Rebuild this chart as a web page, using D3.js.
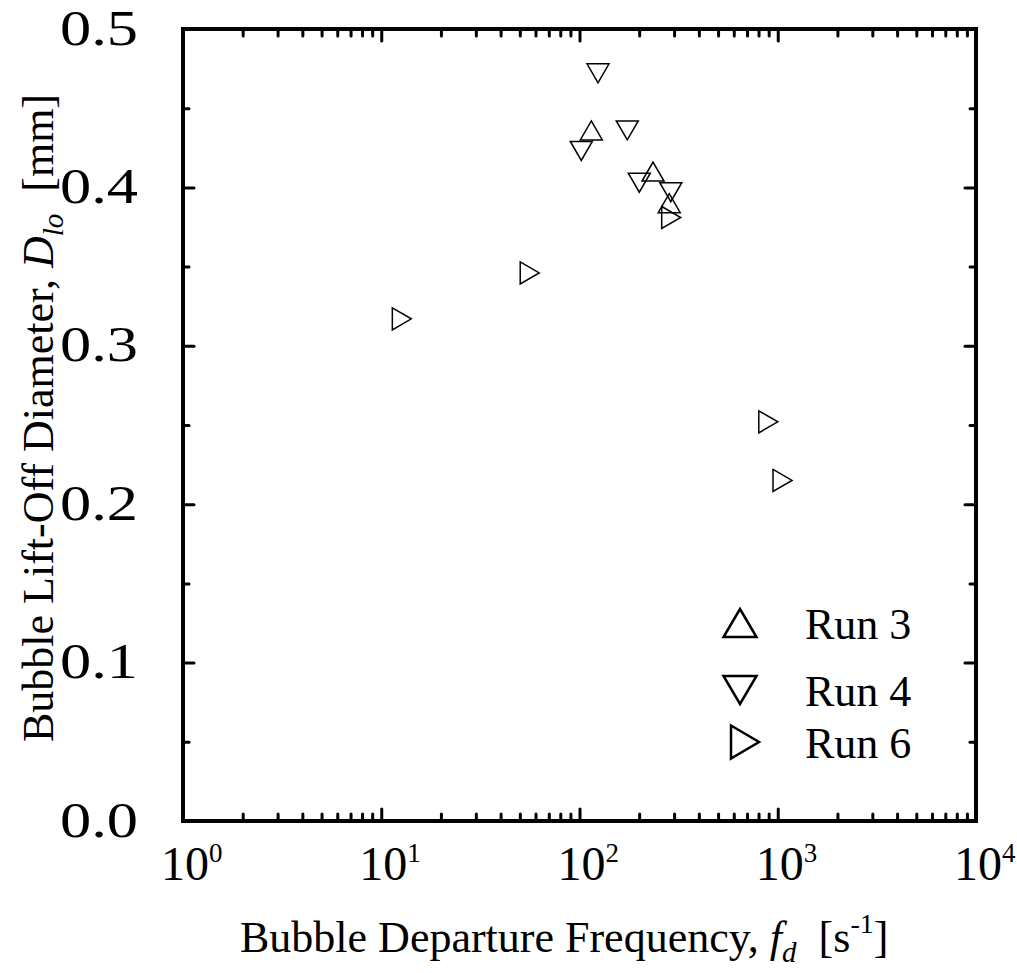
<!DOCTYPE html>
<html>
<head>
<meta charset="utf-8">
<script src="https://cdn.jsdelivr.net/npm/d3@7"></script>
<style>
  body { margin: 0; background: #fff; }
  svg text { font-family: "Liberation Serif", "Times New Roman", serif; fill: #000; }
</style>
</head>
<body>
<svg id="chart" width="1017" height="973"></svg>
<script>
// data
const run3Freq = [114.7, 234.9, 283.5];
const run3Dia = [0.436, 0.410, 0.390];
const run4Freq = [124, 174.2, 102.1, 200.3, 288.7];
const run4Dia = [0.472, 0.436, 0.423, 0.403, 0.397];
const run6Freq = [12.7, 56.1, 290.1, 896, 1057];
const run6Dia = [0.317, 0.346, 0.381, 0.252, 0.215];

const seriesNames = ['Run 3', 'Run 4', 'Run 6'];
const seriesShapes = ['up', 'down', 'right'];
const yTicks = [0, 0.1, 0.2, 0.3, 0.4, 0.5];
const yMinorTicks = [0.05, 0.15, 0.25, 0.35, 0.45];
const xTicks = [1, 10, 100, 1000, 10000];

const W = 1017, H = 973;
const margin = {top: 29, right: 41, bottom: 152, left: 183};

const svg = d3.select('#chart');

const x = d3.scaleLog().domain([1, 1e4]).range([margin.left, W - margin.right]);
const y = d3.scaleLinear().domain([0, 0.5]).range([H - margin.bottom, margin.top]);

const xMinor = [];
[1, 10, 100, 1000].forEach(d => {
    for (let k = 2; k <= 9; k++) xMinor.push(d * k);
});

const styleAxis = g => {
    g.select('.domain').remove();
    g.selectAll('.tick line')
        .attr('stroke', '#000')
        .attr('stroke-width', 3)
        .attr('stroke-linecap', 'round');
};

// bottom / top ticks
svg.append('g')
    .attr('transform', `translate(0,${y(0)})`)
    .call(d3.axisBottom(x).tickValues(xTicks).tickSize(-12).tickFormat(''))
    .call(styleAxis);
svg.append('g')
    .attr('transform', `translate(0,${y(0)})`)
    .call(d3.axisBottom(x).tickValues(xMinor).tickSize(-7).tickFormat(''))
    .call(styleAxis);
svg.append('g')
    .attr('transform', `translate(0,${y(0.5)})`)
    .call(d3.axisTop(x).tickValues(xTicks).tickSize(-12).tickFormat(''))
    .call(styleAxis);
svg.append('g')
    .attr('transform', `translate(0,${y(0.5)})`)
    .call(d3.axisTop(x).tickValues(xMinor).tickSize(-7).tickFormat(''))
    .call(styleAxis);

// left / right ticks
svg.append('g')
    .attr('transform', `translate(${x(1)},0)`)
    .call(d3.axisLeft(y).tickValues(yTicks).tickSize(-11).tickPadding(45).tickFormat(d3.format('.1f')))
    .call(styleAxis)
    .call(g => g.selectAll('.tick text')
        .attr('font-size', 50)
        .attr('font-family', '"Liberation Serif", serif')
        .attr('textLength', 78)
        .attr('lengthAdjust', 'spacingAndGlyphs')
        .attr('dy', '0.3em'));
svg.append('g')
    .attr('transform', `translate(${x(1)},0)`)
    .call(d3.axisLeft(y).tickValues(yMinorTicks).tickSize(-6).tickFormat(''))
    .call(styleAxis);
svg.append('g')
    .attr('transform', `translate(${x(1e4)},0)`)
    .call(d3.axisRight(y).tickValues(yTicks).tickSize(-11).tickFormat(''))
    .call(styleAxis);
svg.append('g')
    .attr('transform', `translate(${x(1e4)},0)`)
    .call(d3.axisRight(y).tickValues(yMinorTicks).tickSize(-6).tickFormat(''))
    .call(styleAxis);

// x tick labels as 10^n
const xLab = svg.append('g').selectAll('text')
    .data(xTicks)
    .join('text')
    .attr('x', d => x(d) - 22)
    .attr('y', 880)
    .attr('font-size', 48);
xLab.append('tspan').text('10');
xLab.append('tspan')
    .attr('font-size', 27)
    .attr('dy', -18)
    .text(d => Math.round(Math.log10(d)));

// frame
svg.append('rect')
    .attr('x', x(1))
    .attr('y', y(0.5))
    .attr('width', x(1e4) - x(1))
    .attr('height', y(0) - y(0.5))
    .attr('fill', 'none')
    .attr('stroke', '#000')
    .attr('stroke-width', 4);

// marker shapes
const tri = (shape, w, h) => {
    const a = w / 2, b = h / 2;
    if (shape === 'up') return `M0,${-b}L${a},${b}L${-a},${b}Z`;
    if (shape === 'down') return `M${-a},${-b}L${a},${-b}L0,${b}Z`;
    return `M${-b},${-a}L${b},0L${-b},${a}Z`;
};

const series = [
    {freq: run3Freq, dia: run3Dia},
    {freq: run4Freq, dia: run4Dia},
    {freq: run6Freq, dia: run6Dia}
];

series.forEach((s, i) => {
    const pts = s.freq.map((f, j) => [f, s.dia[j]]);
    svg.append('g')
        .selectAll('path')
        .data(pts)
        .join('path')
        .attr('transform', d => `translate(${x(d[0])},${y(d[1])})`)
        .attr('d', tri(seriesShapes[i], 22, 19))
        .attr('fill', 'none')
        .attr('stroke', '#000')
        .attr('stroke-width', 1.5);
});

// legend
const legendY = [623, 690, 742];
const legend = svg.append('g');
seriesNames.forEach((name, i) => {
    legend.append('path')
        .attr('transform', `translate(${i === 2 ? 745 : 740},${legendY[i]})`)
        .attr('d', tri(seriesShapes[i], 33, 28))
        .attr('fill', 'none')
        .attr('stroke', '#000')
        .attr('stroke-width', 2.5);
    legend.append('text')
        .attr('x', 805)
        .attr('y', legendY[i] + 16)
        .attr('font-size', 44)
        .text(name);
});

// x axis title
const xt = svg.append('text')
    .attr('x', 240)
    .attr('y', 952)
    .attr('font-size', 44);
xt.append('tspan').text('Bubble Departure Frequency, ');
xt.append('tspan').attr('font-style', 'italic').text('f');
xt.append('tspan').attr('font-style', 'italic').attr('font-size', 29).attr('dy', 10).text('d');
xt.append('tspan').attr('dy', -10).text('\u00a0 [s');
xt.append('tspan').attr('font-size', 28).attr('dy', -19).text('-1');
xt.append('tspan').attr('dy', 19).text(']');

// y axis title
const yt = svg.append('text')
    .attr('transform', 'translate(53,418) rotate(-90)')
    .attr('text-anchor', 'middle')
    .attr('font-size', 44);
yt.append('tspan').text('Bubble Lift-Off Diameter, ');
yt.append('tspan').attr('font-style', 'italic').text('D');
yt.append('tspan').attr('font-style', 'italic').attr('font-size', 29).attr('dy', 10).text('lo');
yt.append('tspan').attr('dy', -10).text('\u00a0 [mm]');
</script>
</body>
</html>
